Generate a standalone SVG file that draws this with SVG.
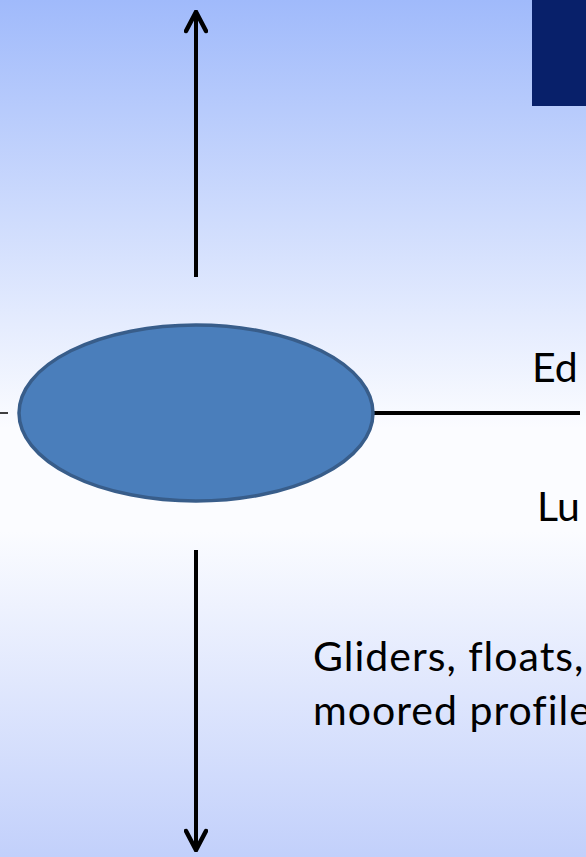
<svg xmlns="http://www.w3.org/2000/svg" width="586" height="857" viewBox="0 0 586 857">
<style>
.t{font-family:Lato,"Open Sans","Liberation Sans",sans-serif;font-size:41px;fill:#000}
.ln{stroke:#000;stroke-width:4;fill:none}
</style>
<defs>
<linearGradient id="bg" x1="0" y1="0" x2="0" y2="1">
<stop offset="0" stop-color="#a0bafb"/>
<stop offset="0.5" stop-color="#fbfcff"/>
<stop offset="0.62" stop-color="#fbfcff"/>
<stop offset="1" stop-color="#c2d0fb"/>
</linearGradient>
<marker id="ah2" viewBox="0 0 24 24" refX="22" refY="12" markerWidth="24" markerHeight="24" markerUnits="userSpaceOnUse" orient="auto">
<path d="M3,2 L22,12 L3,22" fill="none" stroke="#000" stroke-width="4.5" stroke-linecap="round" stroke-linejoin="miter"/>
</marker>
</defs>
<rect width="586" height="857" fill="url(#bg)"/>
<rect id="title-box" x="532" y="0" width="54" height="106" fill="#08206a"/>
<g id="connectors">
<line class="ln" x1="196" y1="277" x2="196" y2="12" marker-end="url(#ah2)"/>
<line class="ln" x1="196" y1="550" x2="196" y2="850" marker-end="url(#ah2)"/>
<line class="ln" x1="374" y1="413" x2="580" y2="413"/>
<line x1="0" y1="413" x2="8" y2="413" stroke="#000" stroke-width="1.5"/>
</g>
<g id="platform">
<ellipse cx="196" cy="413" rx="177" ry="88" fill="#4a7ebb" stroke="#385d8a" stroke-width="3.5"/>
</g>
<g id="label-ed"><text class="t" x="532" y="382">Ed</text></g>
<g id="label-lu"><text class="t" x="537" y="521">Lu</text></g>
<g id="label-gliders">
<text class="t" x="313" y="671" letter-spacing="1">Gliders, floats,</text>
<text class="t" x="313" y="725" letter-spacing="1">moored profile</text>
</g>
</svg>
